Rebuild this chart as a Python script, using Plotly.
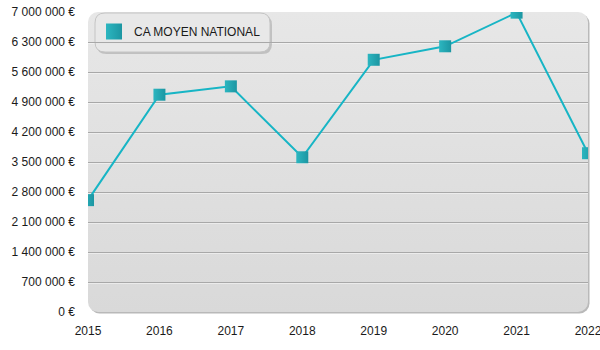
import base64
import plotly.graph_objects as go

# Chiffre d'affaires moyen national par année
annees = [2015, 2016, 2017, 2018, 2019, 2020, 2021, 2022]
ca_moyen = [2610000, 5070000, 5265000, 3610000, 5885000, 6200000, 6985000, 3705000]
serie_nom = "CA MOYEN NATIONAL"

# Graduations de l'axe des montants
graduations = [0, 700000, 1400000, 2100000, 2800000, 3500000, 4200000, 4900000, 5600000, 6300000, 7000000]
libelles = [f"{v:,}".replace(",", " ") + " €" for v in graduations]

W, H = 600, 350
ML, MR, MT, MB = 88, 12, 12, 38
PW, PH = W - ML - MR, H - MT - MB

TEAL_LINE = "#17b5c5"
TEAL_MARK = "#2cb6c0"
TEAL_DARK = "#1c96a2"
FONT = "Liberation Sans, Arial, Helvetica, sans-serif"


def px_x(x):
    return (x - ML) / PW


def px_y(y):
    return (H - MB - y) / PH


def rounded_rect(x0, y0, x1, y1, r):
    """Rounded rectangle path given in page pixels, returned in paper units."""
    pts = [
        ("M", [(x0 + r, y0)]),
        ("L", [(x1 - r, y0)]),
        ("Q", [(x1, y0), (x1, y0 + r)]),
        ("L", [(x1, y1 - r)]),
        ("Q", [(x1, y1), (x1 - r, y1)]),
        ("L", [(x0 + r, y1)]),
        ("Q", [(x0, y1), (x0, y1 - r)]),
        ("L", [(x0, y0 + r)]),
        ("Q", [(x0, y0), (x0 + r, y0)]),
    ]
    out = []
    for cmd, coords in pts:
        out.append(cmd + " " + " ".join(f"{px_x(a):.5f},{px_y(b):.5f}" for a, b in coords))
    return " ".join(out) + " Z"


# Fond du graphique : rectangle arrondi en dégradé avec ombre portée
fond_svg = (
    "<svg xmlns='http://www.w3.org/2000/svg' width='504' height='304' viewBox='0 0 504 304'>"
    "<defs><linearGradient id='g' x1='0' y1='0' x2='0' y2='1'>"
    "<stop offset='0' stop-color='#e7e7e7'/><stop offset='1' stop-color='#d9d9d9'/>"
    "</linearGradient></defs>"
    "<rect x='1.5' y='1.5' width='500' height='300' rx='10' fill='#8a8a8a' fill-opacity='0.6'/>"
    "<rect x='0' y='0' width='500' height='300' rx='10' fill='url(#g)'/>"
    "</svg>"
)
fond_uri = "data:image/svg+xml;base64," + base64.b64encode(fond_svg.encode()).decode()

fig = go.Figure()

fig.add_trace(go.Scatter(
    x=annees, y=ca_moyen, mode="lines+markers", name=serie_nom, showlegend=False,
    line=dict(color=TEAL_LINE, width=2),
    marker=dict(symbol="square", size=12, color=TEAL_MARK,
                gradient=dict(type="horizontal", color=TEAL_DARK),
                line=dict(width=0)),
    cliponaxis=True,
))

# Entrée de légende
fig.add_trace(go.Scatter(
    x=[None], y=[None], mode="markers", name=serie_nom, showlegend=True,
    marker=dict(symbol="square", size=16, color=TEAL_MARK,
                gradient=dict(type="horizontal", color=TEAL_DARK),
                line=dict(width=0)),
))

shapes = []
# Reflet blanc sous chaque ligne de grille
for v in graduations[1:-1]:
    shapes.append(dict(type="line", xref="paper", x0=0, x1=1,
                       yref="y", ysizemode="pixel", yanchor=v, y0=-1, y1=-1,
                       line=dict(color="rgba(255,255,255,0.9)", width=1), layer="between"))

# Cadre arrondi de la légende
shapes.append(dict(type="path", xref="paper", yref="paper",
                   path=rounded_rect(96.5, 15, 272, 54, 10),
                   fillcolor="rgba(0,0,0,0.16)", line=dict(width=0), layer="between"))
shapes.append(dict(type="path", xref="paper", yref="paper",
                   path=rounded_rect(95, 13, 270, 52, 10),
                   fillcolor="#e8e8e8", line=dict(color="#c4c4c4", width=1), layer="between"))

fig.update_layout(
    width=W, height=H,
    margin=dict(l=ML, r=MR, t=MT, b=MB, autoexpand=False),
    paper_bgcolor="white", plot_bgcolor="rgba(0,0,0,0)",
    font=dict(family=FONT, size=12, color="#1a1a1a"),
    images=[dict(source=fond_uri, xref="paper", yref="paper", x=0, y=1,
                 sizex=504 / PW, sizey=304 / PH, xanchor="left", yanchor="top",
                 sizing="stretch", layer="below")],
    shapes=shapes,
    showlegend=True,
    legend=dict(x=px_x(94), y=px_y(17), xanchor="left", yanchor="top",
                bgcolor="rgba(0,0,0,0)", borderwidth=0,
                font=dict(family=FONT, size=12, color="#1a1a1a")),
    xaxis=dict(range=[annees[0], annees[-1]], tickmode="array", tickvals=annees,
               ticktext=[str(a) for a in annees], showgrid=False, zeroline=False,
               showline=False, ticks="", ticklabelstandoff=10, fixedrange=True,
               automargin=False, ticklabeloverflow="allow"),
    yaxis=dict(range=[graduations[0], graduations[-1]], tickmode="array",
               tickvals=graduations, ticktext=libelles, showgrid=True,
               gridcolor="#a8a8a8", gridwidth=1, zeroline=False, showline=False,
               ticks="", ticklabelstandoff=12, fixedrange=True,
               automargin=False, ticklabeloverflow="allow"),
)

fig.write_html("out.html")
